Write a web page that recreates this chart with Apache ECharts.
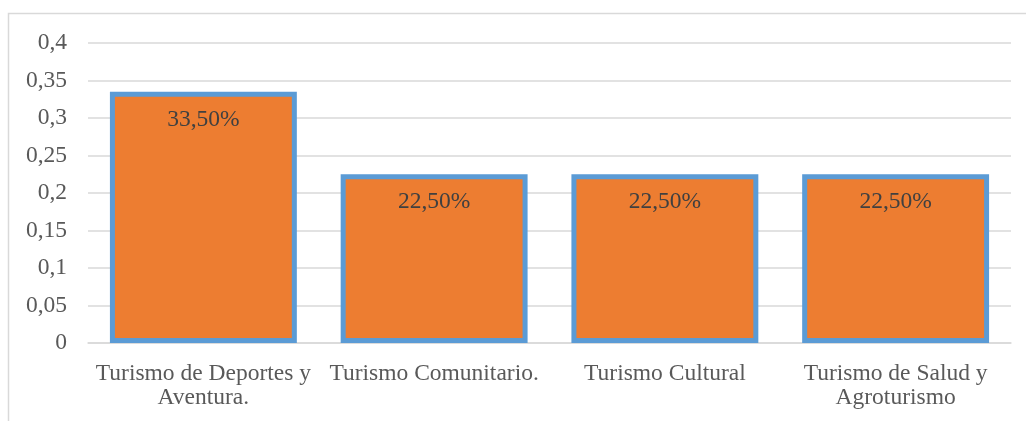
<!DOCTYPE html>
<html>
<head>
<meta charset="utf-8">
<script src="https://cdn.jsdelivr.net/npm/echarts@6/dist/echarts.min.js"></script>
<style>
  html, body { margin: 0; padding: 0; background: #fff; }
  #chart { width: 1026px; height: 421px; }
</style>
</head>
<body>
<div id="chart"></div>
<script>
// datos del gráfico
const categories = [
  "Turismo de Deportes y\nAventura.",
  "Turismo Comunitario.",
  "Turismo Cultural",
  "Turismo de Salud y\nAgroturismo"
];
const values = [0.335, 0.225, 0.225, 0.225];

const fontFamily = '"Liberation Serif", "Times New Roman", serif';

const myChart = echarts.init(document.getElementById("chart"));
const option = {
  animation: false,
  textStyle: { fontFamily: fontFamily },
  graphic: [
    {
      type: "rect",
      shape: { x: 8.5, y: 13.5, width: 1040, height: 440 },
      style: { fill: null, stroke: "#d9d9d9", lineWidth: 1.5 },
      silent: true
    }
  ],
  grid: {
    left: 88,
    right: 15,
    top: 43,
    bottom: 78
  },
  xAxis: {
    type: "category",
    data: categories,
    axisTick: { show: false },
    axisLine: { lineStyle: { color: "#d9d9d9", width: 1.5 } },
    axisLabel: {
      color: "#595959",
      fontSize: 23.5,
      fontFamily: fontFamily,
      margin: 19,
      lineHeight: 24,
      interval: 0
    }
  },
  yAxis: {
    type: "value",
    min: 0,
    max: 0.4,
    interval: 0.05,
    axisLine: { show: false },
    axisTick: { show: false },
    splitLine: { lineStyle: { color: "#d9d9d9", width: 1.5 } },
    axisLabel: {
      color: "#595959",
      fontSize: 23.5,
      fontFamily: fontFamily,
      margin: 21,
      formatter: function (v) {
        return String(Math.round(v * 100) / 100).replace(".", ",");
      }
    }
  },
  series: [
    {
      type: "bar",
      data: values,
      barWidth: "81%",
      itemStyle: {
        color: "#ed7d31",
        borderColor: "#5b9bd5",
        borderWidth: 5
      },
      label: {
        show: true,
        position: "insideTop",
        distance: 16,
        color: "#404040",
        fontSize: 23.5,
        fontFamily: fontFamily,
        formatter: function (p) {
          return (p.value * 100).toFixed(2).replace(".", ",") + "%";
        }
      }
    }
  ]
};
myChart.setOption(option);
</script>
</body>
</html>
